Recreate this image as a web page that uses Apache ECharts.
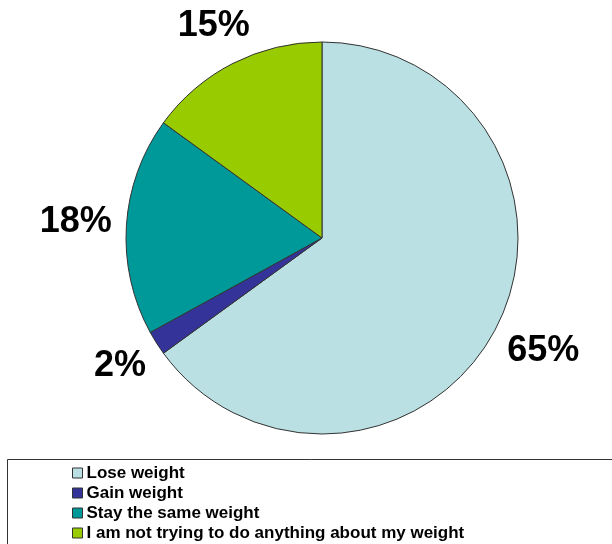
<!DOCTYPE html>
<html>
<head>
<meta charset="utf-8">
<script src="https://cdn.jsdelivr.net/npm/echarts@6/dist/echarts.min.js"></script>
<style>
html,body{margin:0;padding:0;background:#fff;}
#chart{width:612px;height:544px;}
</style>
</head>
<body>
<div id="chart"></div>
<script>
const categories = ['Lose weight', 'Gain weight', 'Stay the same weight', 'I am not trying to do anything about my weight'];
const values = [65, 2, 18, 15];
const colors = ['#BBE0E3', '#333399', '#009999', '#99CC00'];

const CX = 322, CY = 238, R = 196, LABEL_GAP = 14, LABEL_FONT = 36;
const total = values.reduce((a, b) => a + b, 0);
function midAngle(i) {
  let s = 0;
  for (let j = 0; j < i; j++) s += values[j];
  return (s + values[i] / 2) / total * Math.PI * 2; // clockwise from top
}

const chart = echarts.init(document.getElementById('chart'), null, {renderer: 'canvas'});
chart.setOption({
  animation: false,
  backgroundColor: '#ffffff',
  graphic: [{
    type: 'rect',
    shape: {x: 7.5, y: 459.5, width: 700, height: 200},
    style: {fill: 'none', stroke: '#333333', lineWidth: 1},
    silent: true
  }],
  legend: {
    orient: 'vertical',
    left: 72,
    top: 463,
    height: 120,
    padding: 0,
    itemGap: 0,
    itemWidth: 10,
    itemHeight: 10,
    icon: 'rect',
    selectedMode: false,
    itemStyle: {borderColor: '#333333', borderWidth: 1},
    textStyle: {fontFamily: 'Liberation Sans, Arial, sans-serif', fontWeight: 'bold', fontSize: 17, color: '#000', lineHeight: 20, height: 20, padding: [0, 0, 0, -1]},
    data: categories
  },
  series: [{
    type: 'pie',
    center: [CX, CY],
    radius: [0, R],
    startAngle: 90,
    clockwise: true,
    avoidLabelOverlap: false,
    data: categories.map((c, i) => ({name: c, value: values[i], itemStyle: {color: colors[i]}})),
    itemStyle: {borderColor: '#333333', borderWidth: 1},
    label: {
      show: true,
      position: 'outside',
      formatter: p => Math.round(p.percent) + '%',
      fontFamily: 'Liberation Sans, Arial, sans-serif',
      fontWeight: 'bold',
      fontSize: LABEL_FONT,
      color: '#000'
    },
    labelLine: {show: false},
    labelLayout: function (params) {
      const a = midAngle(params.dataIndex);
      const ux = Math.sin(a), uy = -Math.cos(a);
      const w = params.labelRect.width;
      const h = LABEL_FONT * 0.75;
      const d = R + LABEL_GAP + (w / 2) * Math.abs(ux) + (h / 2) * Math.abs(uy);
      return {x: CX + ux * d, y: CY + uy * d, align: 'center', verticalAlign: 'middle'};
    },
    emphasis: {disabled: true}
  }]
});
</script>
</body>
</html>
